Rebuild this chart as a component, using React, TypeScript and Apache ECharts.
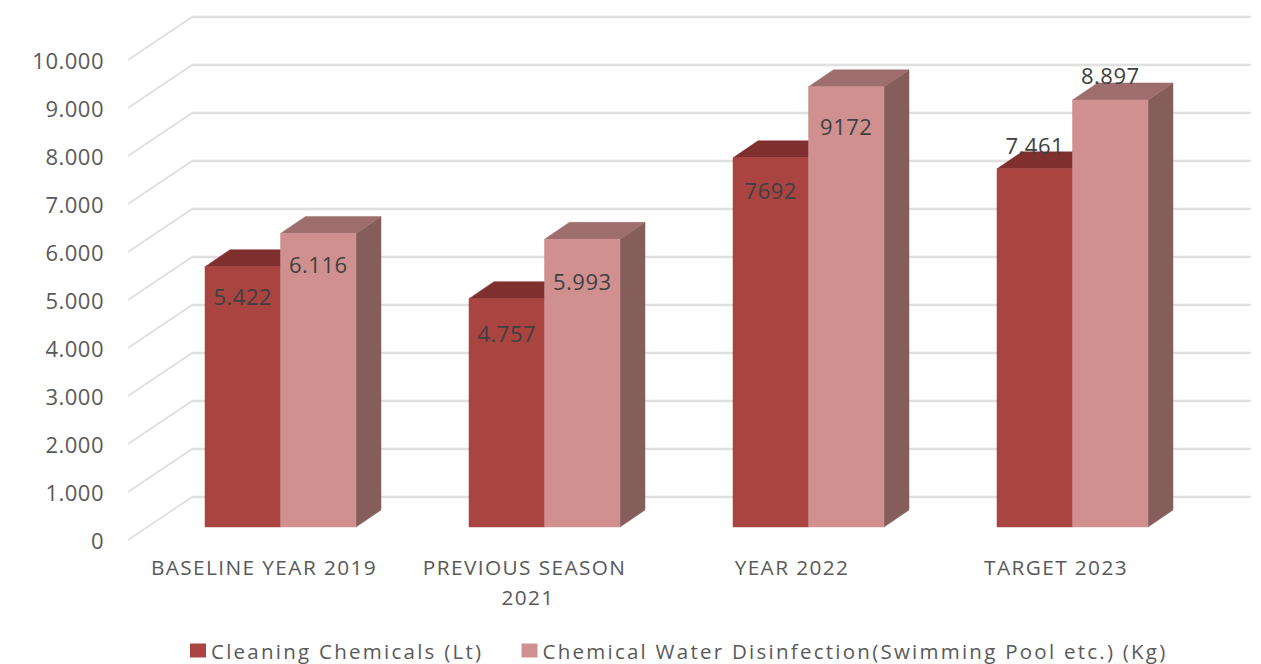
import React, { useEffect, useRef } from "react";
import * as echarts from "echarts";

const categories = ["BASELINE YEAR 2019", "PREVIOUS SEASON 2021", "YEAR 2022", "TARGET 2023"];
const seriesNames = ["Cleaning Chemicals (Lt)", "Chemical Water Disinfection(Swimming Pool etc.) (Kg)"];
const cleaningValues = [5422, 4757, 7692, 7461];
const disinfectionValues = [6116, 5993, 9172, 8897];
const cleaningLabels = ["5.422", "4.757", "7692", "7.461"];
const disinfectionLabels = ["6.116", "5.993", "9172", "8.897"];
const yTicks = [0, 1000, 2000, 3000, 4000, 5000, 6000, 7000, 8000, 9000, 10000];
const yTickLabels = ["0", "1.000", "2.000", "3.000", "4.000", "5.000", "6.000", "7.000", "8.000", "9.000", "10.000"];

const FONT = '"Open Sans", sans-serif';
const BAR_W = 75.5;
const FRONT = { dx: 16.5, dy: -13 };
const DEPTH = { dx: 25, dy: -17 };
const WALL = { x0: 128, dx: 64, dy: -43, x1: 1251 };
const cleaningShift = [29, 34, 32, -24];
const disinfectionShift = [31, 42, 39, -25];

const spacingCss = `
  svg text[style*="22px"] { letter-spacing: 0.5px; }
  svg text[style*="20.8px"] { letter-spacing: 1.4px; }
  svg text[style*="20.5px"] { letter-spacing: 2.25px; }
`;

const barItem = (
  colors: { front: string; top: string; side: string },
  side: -1 | 1,
  labels: string[],
  shifts: number[],
) => (params: any, api: any) => {
  const i = api.value(0);
  const v = api.value(1);
  const [cx, yTop] = api.coord([i, v]);
  const [, yBase] = api.coord([i, 0]);
  const x0 = cx + FRONT.dx + (side < 0 ? -BAR_W : 0);
  const x1 = x0 + BAR_W;
  const t = yTop + FRONT.dy;
  const b = yBase + FRONT.dy;
  const { dx, dy } = DEPTH;
  const poly = (points: number[][], fill: string) => ({
    type: "polygon",
    shape: { points },
    style: { fill, stroke: fill, lineWidth: 0.5 },
    silent: true,
  });
  return {
    type: "group",
    children: [
      poly([[x1, t], [x1 + dx, t + dy], [x1 + dx, b + dy], [x1, b]], colors.side),
      poly([[x0, t], [x0 + dx, t + dy], [x1 + dx, t + dy], [x1, t]], colors.top),
      poly([[x0, t], [x1, t], [x1, b], [x0, b]], colors.front),
      {
        type: "text",
        x: (x0 + x1) / 2,
        y: t + shifts[params.dataIndex],
        silent: true,
        style: {
          text: labels[params.dataIndex],
          fill: "#404040",
          font: `22px ${FONT}`,
          align: "center",
          verticalAlign: "middle",
        },
      },
    ],
  };
};

const wallItem = (_params: any, api: any) => {
  const [, y] = api.coord([0, api.value(1)]);
  const { x0, dx, dy, x1 } = WALL;
  return {
    type: "group",
    children: [
      {
        type: "line",
        shape: { x1: x0, y1: y, x2: x0 + dx, y2: y + dy },
        style: { stroke: "#DEDEDE", lineWidth: 1.6 },
        silent: true,
      },
      {
        type: "line",
        shape: { x1: x0 + dx, y1: y + dy, x2: x1, y2: y + dy },
        style: { stroke: "#E0E0E0", lineWidth: 2.6 },
        silent: true,
      },
    ],
  };
};

export default function App() {
  const ref = useRef<HTMLDivElement>(null);
  useEffect(() => {
    const chart = echarts.init(ref.current!, undefined, { renderer: "svg" });
    chart.setOption({
      animation: false,
      backgroundColor: "#fff",
      grid: { left: 132, right: 73, top: 60, bottom: 124, containLabel: false },
      legend: {
        data: seriesNames,
        left: 190,
        top: 640,
        padding: 0,
        icon: "rect",
        itemWidth: 16,
        itemHeight: 14,
        itemGap: 90,
        selectedMode: false,
        textStyle: { color: "#595959", fontFamily: FONT, fontSize: 20.5 },
      },
      xAxis: {
        type: "category",
        data: categories,
        axisLine: { show: false },
        axisTick: { show: false },
        splitLine: { show: false },
        axisLabel: {
          interval: 0,
          color: "#595959",
          fontFamily: FONT,
          fontSize: 20.8,
          lineHeight: 30,
          margin: 12,
          width: 215,
          overflow: "break",
        },
      },
      yAxis: {
        type: "value",
        min: 0,
        max: 10000,
        interval: 1000,
        axisLine: { show: false },
        axisTick: { show: false },
        splitLine: { show: false },
        axisLabel: {
          color: "#595959",
          fontFamily: FONT,
          fontSize: 22,
          margin: 28,
          formatter: (v: number) => yTickLabels[yTicks.indexOf(v)],
        },
      },
      series: [
        {
          type: "custom",
          name: "walls",
          renderItem: wallItem,
          encode: { x: 0, y: 1 },
          data: yTicks.map((t) => [0, t]),
          clip: false,
          silent: true,
          z: 1,
        },
        {
          type: "custom",
          name: seriesNames[0],
          renderItem: barItem({ front: "#A94441", top: "#7F2F2E", side: "#7F2F2E" }, -1, cleaningLabels, cleaningShift),
          encode: { x: 0, y: 1 },
          data: cleaningValues.map((v, i) => [i, v]),
          itemStyle: { color: "#A94441" },
          clip: false,
          z: 2,
        },
        {
          type: "custom",
          name: seriesNames[1],
          renderItem: barItem({ front: "#D09090", top: "#9E6E6E", side: "#855E5C" }, 1, disinfectionLabels, disinfectionShift),
          encode: { x: 0, y: 1 },
          data: disinfectionValues.map((v, i) => [i, v]),
          itemStyle: { color: "#D09090" },
          clip: false,
          z: 3,
        },
      ],
    });
    return () => chart.dispose();
  }, []);
  return (
    <>
      <style>{spacingCss}</style>
      <div ref={ref} style={{ position: "absolute", left: 0, top: 0, width: 1261, height: 664 }} />
    </>
  );
}
